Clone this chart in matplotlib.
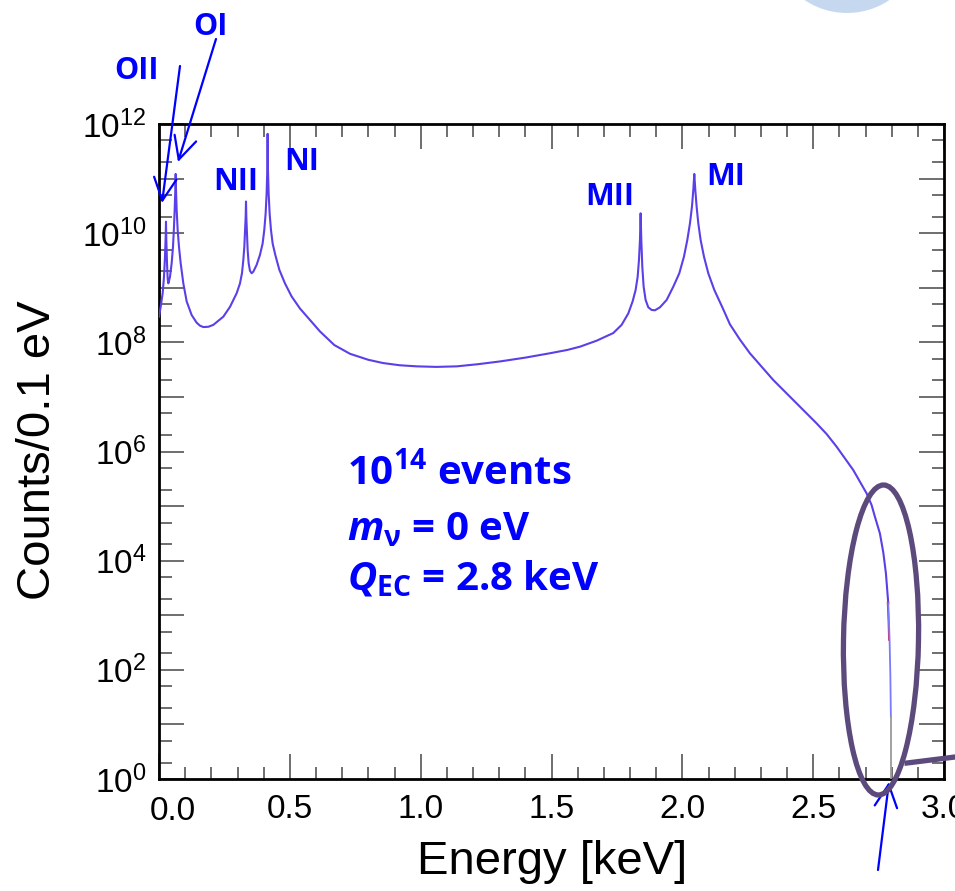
import numpy as np
import matplotlib
matplotlib.use('Agg')
import matplotlib.pyplot as plt
from matplotlib.ticker import MultipleLocator, LogLocator, FuncFormatter, NullFormatter
from matplotlib.patches import Ellipse, Circle, FancyArrowPatch
from matplotlib.lines import Line2D

plt.rcParams['font.family'] = ['Liberation Sans', 'DejaVu Sans']

# spectrum: energy in keV, counts/0.1 eV given in decades
energy_kev = [0.000, 0.0064, 0.0140, 0.0191, 0.0229, 0.0255, 0.0267, 0.0280, 0.0306, 0.0331,
              0.0357, 0.0420, 0.0484, 0.0535, 0.0573, 0.0599, 0.0624, 0.0637, 0.0650, 0.0675,
              0.0713, 0.0764, 0.0828, 0.0930, 0.1057, 0.1248, 0.1439, 0.1566, 0.1694, 0.1885,
              0.2076, 0.2458,
              0.2713, 0.2968, 0.3095, 0.3172, 0.3223, 0.3261, 0.3286, 0.3312, 0.3325, 0.3337,
              0.3363, 0.3388, 0.3426, 0.3477, 0.3541, 0.3605, 0.3730, 0.3857, 0.3960, 0.4024,
              0.4075, 0.4113, 0.4139, 0.4151, 0.4164, 0.4190, 0.4228, 0.4279, 0.4343, 0.4445,
              0.4598, 0.4814, 0.5069, 0.5387, 0.5769, 0.6151, 0.670, 0.730, 0.800, 0.857,
              0.920, 0.985, 1.060, 1.138, 1.220, 1.303, 1.400, 1.494, 1.560, 1.6087,
              1.6724, 1.7361, 1.7680, 1.7935, 1.8100, 1.8215, 1.8292, 1.8343, 1.8381, 1.8406,
              1.8432, 1.8470, 1.8521, 1.8597, 1.8699, 1.8827, 1.8954, 1.9145, 1.9400, 1.9655,
              1.9884, 2.0062, 2.0190, 2.0292, 2.0368, 2.0419, 2.0457, 2.0496, 2.0546, 2.0610,
              2.0699, 2.0827, 2.0992, 2.1222, 2.1540, 2.1819, 2.2201, 2.2583, 2.3029, 2.3475,
              2.3920, 2.4366, 2.4748, 2.5130, 2.5512, 2.5894, 2.6213, 2.6531, 2.6786, 2.7041,
              2.7232, 2.7359, 2.7550, 2.7680, 2.7780, 2.7870]
log_counts = [8.47, 8.65, 8.90, 9.20, 9.57, 9.94, 10.21, 9.88, 9.45, 9.17,
              9.08, 9.20, 9.45, 9.75, 10.12, 10.43, 10.79, 11.085, 10.79, 10.43,
              10.06, 9.75, 9.45, 9.08, 8.75, 8.50, 8.36, 8.305, 8.28, 8.285,
              8.32, 8.47,
              8.65, 8.90, 9.08, 9.27, 9.51, 9.75, 10.00, 10.30, 10.58, 10.30,
              10.00, 9.69, 9.45, 9.31, 9.265, 9.295, 9.418, 9.60, 9.81, 10.06,
              10.36, 10.73, 11.16, 11.82, 11.16, 10.73, 10.36, 10.06, 9.81, 9.60,
              9.33, 9.08, 8.84, 8.62, 8.41, 8.20, 7.95, 7.79, 7.68, 7.62,
              7.58, 7.56, 7.55, 7.56, 7.60, 7.65, 7.72, 7.80, 7.86, 7.92,
              8.03, 8.17, 8.32, 8.53, 8.75, 8.96, 9.20, 9.51, 9.875, 10.364,
              9.875, 9.387, 9.02, 8.776, 8.642, 8.593, 8.587, 8.642, 8.776, 9.02,
              9.265, 9.57, 9.875, 10.181, 10.486, 10.791, 11.085, 10.791, 10.486, 10.181,
              9.875, 9.57, 9.265, 8.96, 8.63, 8.33, 8.05, 7.799, 7.555, 7.310,
              7.097, 6.883, 6.700, 6.516, 6.321, 6.089, 5.875, 5.661, 5.448, 5.234,
              5.020, 4.806, 4.50, 4.15, 3.77, 3.22]

# endpoint region
red_energy = [2.785, 2.788, 2.790]
red_log = [3.23, 2.90, 2.55]
tail_energy = [2.787, 2.792, 2.795, 2.797]
tail_log = [3.22, 2.55, 1.90, 1.14]
zero_energy = [2.798, 2.798]
zero_log = [1.14, 0.0]

peak_labels = ['OII', 'OI', 'NII', 'NI', 'MII', 'MI']

W, H = 955, 891
fig = plt.figure(figsize=(W / 100, H / 100), dpi=100)
ax = fig.add_axes([159 / W, 112 / H, 785 / W, 655 / H])


def fx(x):
    return x / W


def fy(y):
    return 1 - y / H


ax.plot(energy_kev, 10 ** np.array(log_counts), color='#5b3fe8', lw=1.5, zorder=3)
ax.plot(red_energy, 10 ** np.array(red_log), color='#e8203a', lw=1.4, zorder=3)
ax.plot(tail_energy, 10 ** np.array(tail_log), color='#7a7aff', lw=1.3, zorder=3)
ax.plot(zero_energy, 10 ** np.array(zero_log), color='#9a9a9a', lw=1.3, zorder=3)

ax.set_yscale('log')
ax.set_xlim(0.0, 3.0)
ax.set_ylim(1, 1e12)

ax.xaxis.set_major_locator(MultipleLocator(0.5))
ax.xaxis.set_minor_locator(MultipleLocator(0.1))
ax.xaxis.set_major_formatter(FuncFormatter(lambda v, p: '' if abs(v) < 1e-6 else '%.1f' % v))
ax.yaxis.set_major_locator(LogLocator(base=10, numticks=20))
ax.yaxis.set_minor_locator(LogLocator(base=10, subs=(2.0, 5.0), numticks=20))
ax.yaxis.set_minor_formatter(NullFormatter())


def yfmt(v, p):
    e = int(round(np.log10(v)))
    if e % 2:
        return ''
    return r'$\mathregular{10^{%d}}$' % e


ax.yaxis.set_major_formatter(FuncFormatter(yfmt))

ax.tick_params(which='both', direction='in', top=True, right=True,
               color='#555555', width=1.2)
ax.tick_params(which='major', length=18, labelsize=24)
ax.tick_params(which='minor', length=9)
ax.tick_params(axis='y', which='major', pad=9)
ax.tick_params(axis='x', which='major', pad=11)

# ROOT style shifted 0.0 label
ax.annotate('0.0', xy=(0, 0), xycoords=('data', 'axes fraction'),
            xytext=(10, -12), textcoords='offset points', ha='center', va='top',
            fontsize=24)

for s in ax.spines.values():
    s.set_linewidth(2)
    s.set_color('black')

ax.set_xlabel('Energy [keV]', fontsize=34)
ax.set_ylabel('Counts/0.1 eV', fontsize=34)
ax.xaxis.set_label_coords((552 - 159) / 785, -(840 - 779) / 655)
ax.yaxis.set_label_coords(-(159 - 60) / 785, (779 - 450) / 655)

# peak names
bold = dict(family='Open Sans', weight='bold', color='#0000ff', fontsize=22)
label_pos = [(136, 79), (210, 35), (236, 190), (302, 170), (610, 205), (726, 185)]
for name, (x, y) in zip(peak_labels, label_pos):
    fig.text(fx(x), fy(y), name, ha='center', va='baseline', **bold)

# arrows onto the O lines and the endpoint
arrow_kw = dict(arrowstyle='->,head_length=0.9,head_width=0.45', color='#0000ff',
                lw=1.6, mutation_scale=18, shrinkA=0, shrinkB=0)
for (x0, y0), (x1, y1) in [((216, 39), (178, 162)), ((180, 66), (162, 203)),
                           ((878, 870), (889, 782))]:
    fig.add_artist(FancyArrowPatch((x0, H - y0), (x1, H - y1), transform=None, **arrow_kw))

# info text
plt.rcParams['mathtext.fontset'] = 'custom'
plt.rcParams['mathtext.it'] = 'Open Sans:italic:bold'
plt.rcParams['mathtext.rm'] = 'Open Sans:bold'
plt.rcParams['mathtext.bf'] = 'Open Sans:bold'
info = dict(family='Open Sans', weight='bold', color='#0000ff', fontsize=29)
fig.text(fx(347), fy(485), r'$\mathregular{10^{14}}$ events', ha='left', va='baseline', **info)
fig.text(fx(347), fy(540), r'$\mathit{m}_{\mathregular{\nu}}$ = 0 eV', ha='left', va='baseline', **info)
fig.text(fx(347), fy(590), r'$\mathit{Q}_{\mathregular{EC}}$ = 2.8 keV', ha='left', va='baseline', **info)

# highlight around the endpoint
fig.add_artist(Ellipse((8.81, (H - 640) / 100), 0.75, 3.10, angle=-1,
                       transform=fig.dpi_scale_trans, fill=False,
                       edgecolor='#5c4a7d', lw=3.8, zorder=5))
fig.add_artist(Line2D([9.07, 9.55], [(H - 763) / 100, (H - 757) / 100],
                      transform=fig.dpi_scale_trans, color='#5c4a7d', lw=3.8, zorder=5))
fig.add_artist(Circle((8.47, (H + 63) / 100), 0.76, transform=fig.dpi_scale_trans,
                      facecolor='#c6d8f0', edgecolor='none', zorder=0))

fig.savefig('out.png', dpi=100)
